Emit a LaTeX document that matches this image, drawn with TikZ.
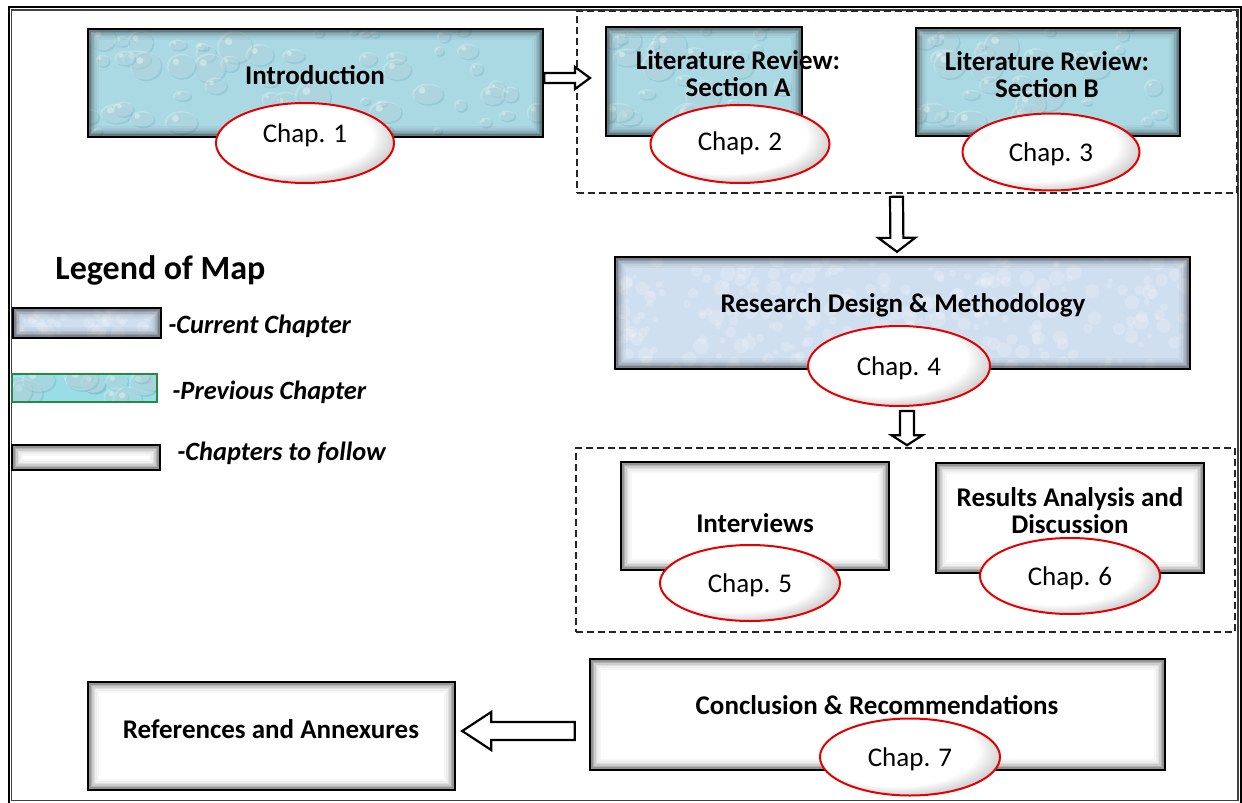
\documentclass[tikz,border=0pt]{standalone}
\usepackage{fontspec}
\setmainfont{Carlito}
\usetikzlibrary{shapes.geometric, fit, calc}

\definecolor{prevfill}{RGB}{170,217,228}
\definecolor{prevdark}{RGB}{108,172,190}
\definecolor{curfill}{RGB}{208,223,240}
\definecolor{chapred}{RGB}{226,0,0}
\definecolor{legendgreen}{RGB}{34,140,64}

% white ball with a grey rim towards the lower right
\pgfdeclareradialshading{chapball}{\pgfpoint{-8bp}{8bp}}{%
  color(0bp)=(white); color(23bp)=(white); color(28bp)=(black!16); color(35bp)=(black!42); color(48bp)=(black!55)}

% soft grey glow along the inside of a box
\newcommand\innerglow{%
  \foreach \i/\o in {0.9/0.42,1.7/0.30,2.5/0.20,3.3/0.12,4.1/0.07,4.9/0.035}{%
    \draw[black, opacity=\o, line width=0.8pt]
      ([xshift=\i pt, yshift=\i pt]path picture bounding box.south west)
      rectangle ([xshift=-\i pt, yshift=-\i pt]path picture bounding box.north east);}}

% water-drop texture
\newcommand\waterdrops[2]{%
  \pgfmathsetseed{#2}%
  \foreach \k in {1,...,#1}{%
    \pgfmathsetmacro\rx{rnd}\pgfmathsetmacro\ry{rnd}%
    \pgfmathsetmacro\rr{2+7*rnd}\pgfmathsetmacro\rq{\rr*(0.55+0.4*rnd)}%
    \pgfmathsetmacro\hx{-0.35*\rr}\pgfmathsetmacro\hy{0.35*\rq}%
    \path let \p1=(path picture bounding box.south west),
              \p2=(path picture bounding box.north east) in
      ({\x1+\rx*(\x2-\x1)},{\y1+\ry*(\y2-\y1)}) coordinate (dropc);
    \fill[prevdark, opacity=0.32] ([xshift=0.8pt,yshift=-0.8pt]dropc)
      ellipse [x radius=\rr*1pt, y radius=\rq*1pt];
    \fill[white, opacity=0.22] (dropc) ellipse [x radius=\rr*1pt, y radius=\rq*1pt];
    \fill[white, opacity=0.35] ([xshift=\hx*1pt,yshift=\hy*1pt]dropc)
      circle [radius=0.22*\rr*1pt];}}

% mottled paper texture
\newcommand\mottle[2]{%
  \pgfmathsetseed{#2}%
  \foreach \k in {1,...,#1}{%
    \pgfmathsetmacro\rx{rnd}\pgfmathsetmacro\ry{rnd}\pgfmathsetmacro\rr{1+3*rnd}%
    \path let \p1=(path picture bounding box.south west),
              \p2=(path picture bounding box.north east) in
      ({\x1+\rx*(\x2-\x1)},{\y1+\ry*(\y2-\y1)}) coordinate (mc);
    \fill[white, opacity=0.18] (mc) circle [radius=\rr*1pt];}}

\def\bashaft{3}\def\bahead{8}\def\bahlen{7}

\tikzset{
  ba shaft/.store in=\bashaft,
  ba head/.store in=\bahead,
  ba len/.store in=\bahlen,
  boxbase/.style={draw=black, line width=1.2pt, inner sep=0pt},
  prevbox/.style={boxbase, fill=prevfill,
    path picture={\waterdrops{#1}{7}\innerglow}},
  curbox/.style={boxbase, fill=curfill,
    path picture={\mottle{#1}{11}\innerglow}},
  nextbox/.style={boxbase, fill=white, path picture={\innerglow}},
  group/.style={draw=black!85, line width=0.8pt, dash pattern=on 3.5pt off 2pt, inner sep=0pt},
  boxtext/.style={font=\fontsize{13.5}{13.5}\selectfont\bfseries, align=center, inner sep=0pt},
  chap/.style={ellipse, draw=chapred, line width=1pt, shade, shading=chapball,
    inner sep=0pt, text height=12.5pt, text depth=3pt,
    font=\fontsize{13.5}{13.5}\selectfont},
  legtext/.style={font=\fontsize{13.2}{13.2}\selectfont\bfseries\itshape, anchor=west, inner sep=0pt},
  blockarrow/.style={draw=black, fill=white, line width=1.1pt, line join=miter,
    to path={let \p1=(\tikztostart), \p2=(\tikztotarget),
      \n1={atan2(\y2-\y1,\x2-\x1)}, \n2={veclen(\x2-\x1,\y2-\y1)} in
      ({\x1-\bashaft*sin(\n1)},{\y1+\bashaft*cos(\n1)})
      -- ({\x1+(\n2-\bahlen)*cos(\n1)-\bashaft*sin(\n1)},{\y1+(\n2-\bahlen)*sin(\n1)+\bashaft*cos(\n1)})
      -- ({\x1+(\n2-\bahlen)*cos(\n1)-\bahead*sin(\n1)},{\y1+(\n2-\bahlen)*sin(\n1)+\bahead*cos(\n1)})
      -- (\x2,\y2)
      -- ({\x1+(\n2-\bahlen)*cos(\n1)+\bahead*sin(\n1)},{\y1+(\n2-\bahlen)*sin(\n1)-\bahead*cos(\n1)})
      -- ({\x1+(\n2-\bahlen)*cos(\n1)+\bashaft*sin(\n1)},{\y1+(\n2-\bahlen)*sin(\n1)-\bashaft*cos(\n1)})
      -- ({\x1+\bashaft*sin(\n1)},{\y1-\bashaft*cos(\n1)}) -- cycle}}
}

\begin{document}
\begin{tikzpicture}[x=0.5pt, y=-0.5pt]
\useasboundingbox (0,0) rectangle (1242,803);
\fill[white] (0,0) rectangle (1242,803);

% page frame (double rule)
\draw[black, line width=1pt] (8.5,6.5) rectangle (1241,803.5);
\draw[black!75, line width=0.6pt] (11.5,10) rectangle (1238,800.5);

% dashed groups
\node[group, fit={(577,11) (1237,193)}] (grpA) {};
\node[group, fit={(576,448) (1235,632)}] (grpB) {};

% chapter boxes
\node[prevbox=60, fit={(88,29) (543,137)}] (intro) {};
\node[prevbox=30, fit={(606,27) (802,136)}] (litA) {};
\node[prevbox=36, fit={(916,28) (1180,136)}] (litB) {};
\node[curbox=300, fit={(615,257) (1190,369)}] (research) {};
\node[nextbox, fit={(621,462) (889,570)}] (interviews) {};
\node[nextbox, fit={(936,463) (1204,573)}] (results) {};
\node[nextbox, fit={(590,659) (1165,770)}] (conclusion) {};
\node[nextbox, fit={(88,682) (455,790)}] (refs) {};

% box titles
\node[boxtext] (introT) at (315,75) {Introduction};
\node[boxtext] (litAT) at (738,74) {Literature Review:\\Section A};
\node[boxtext] (litBT) at (1047,75) {Literature Review:\\Section B};
\node[boxtext] (researchT) at (903,305) {Research Design \& Methodology};
\node[boxtext] (interviewsT) at (755,523) {Interviews};
\node[boxtext] (resultsT) at (1070,511) {Results Analysis and\\Discussion};
\node[boxtext] (conclusionT) at (877,705) {Conclusion \& Recommendations};
\node[boxtext] (refsT) at (271,729) {References and Annexures};

% chapter badges
\node[chap, minimum width=89pt, minimum height=40pt, text depth=13pt] (c1) at (305,143) {Chap. 1};
\node[chap, minimum width=89.5pt, minimum height=39pt, text depth=6pt] (c2) at (740,144) {Chap. 2};
\node[chap, minimum width=88.5pt, minimum height=38.5pt] (c3) at (1051,152) {Chap. 3};
\node[chap, minimum width=91pt, minimum height=40pt] (c4) at (899,366) {Chap. 4};
\node[chap, minimum width=90pt, minimum height=38pt] (c5) at (750,583) {Chap. 5};
\node[chap, minimum width=90pt, minimum height=38pt] (c6) at (1070,576) {Chap. 6};
\node[chap, minimum width=90pt, minimum height=38.5pt] (c7) at (910,757) {Chap. 7};

% flow arrows
\coordinate (litIn) at (590,78);
\draw[blockarrow, ba shaft=2.5, ba head=5.5, ba len=7.5]
  ([yshift=2.5pt]intro.east) to (litIn);
\draw[blockarrow, ba shaft=3.25, ba head=9.25, ba len=7]
  ($(grpA.south)+(-10.5,3)$) to ($(research.north)+(-5.5,-4)$);
\draw[blockarrow, ba shaft=3.5, ba head=7.75, ba len=5]
  ($(c4.south)+(8,4)$) to ($(grpB.north)+(1.5,-2)$);
\draw[blockarrow, ba shaft=4.5, ba head=9.5, ba len=14.5]
  ($(conclusion.west)+(-14,16.5)$) to ($(refs.east)+(6,-5)$);

% legend
\node[font=\fontsize{17}{17}\selectfont\bfseries, anchor=west, inner sep=0pt] (legT) at (55,270) {Legend of Map};
\node[curbox=50, fit={(13,308) (161,338)}] (lcur) {};
\node[boxbase, draw=legendgreen, line width=1pt, fill=prevfill!90!cyan,
  path picture={\waterdrops{14}{3}}, fit={(12,374) (157,402)}] (lprev) {};
\node[nextbox, fit={(12,445) (160,470)}] (lnext) {};
\node[legtext] (lcurT) at (168,326) {-Current Chapter};
\node[legtext] (lprevT) at (172,392) {-Previous Chapter};
\node[legtext] (lnextT) at (177,453) {-Chapters to follow};
\end{tikzpicture}
\end{document}
